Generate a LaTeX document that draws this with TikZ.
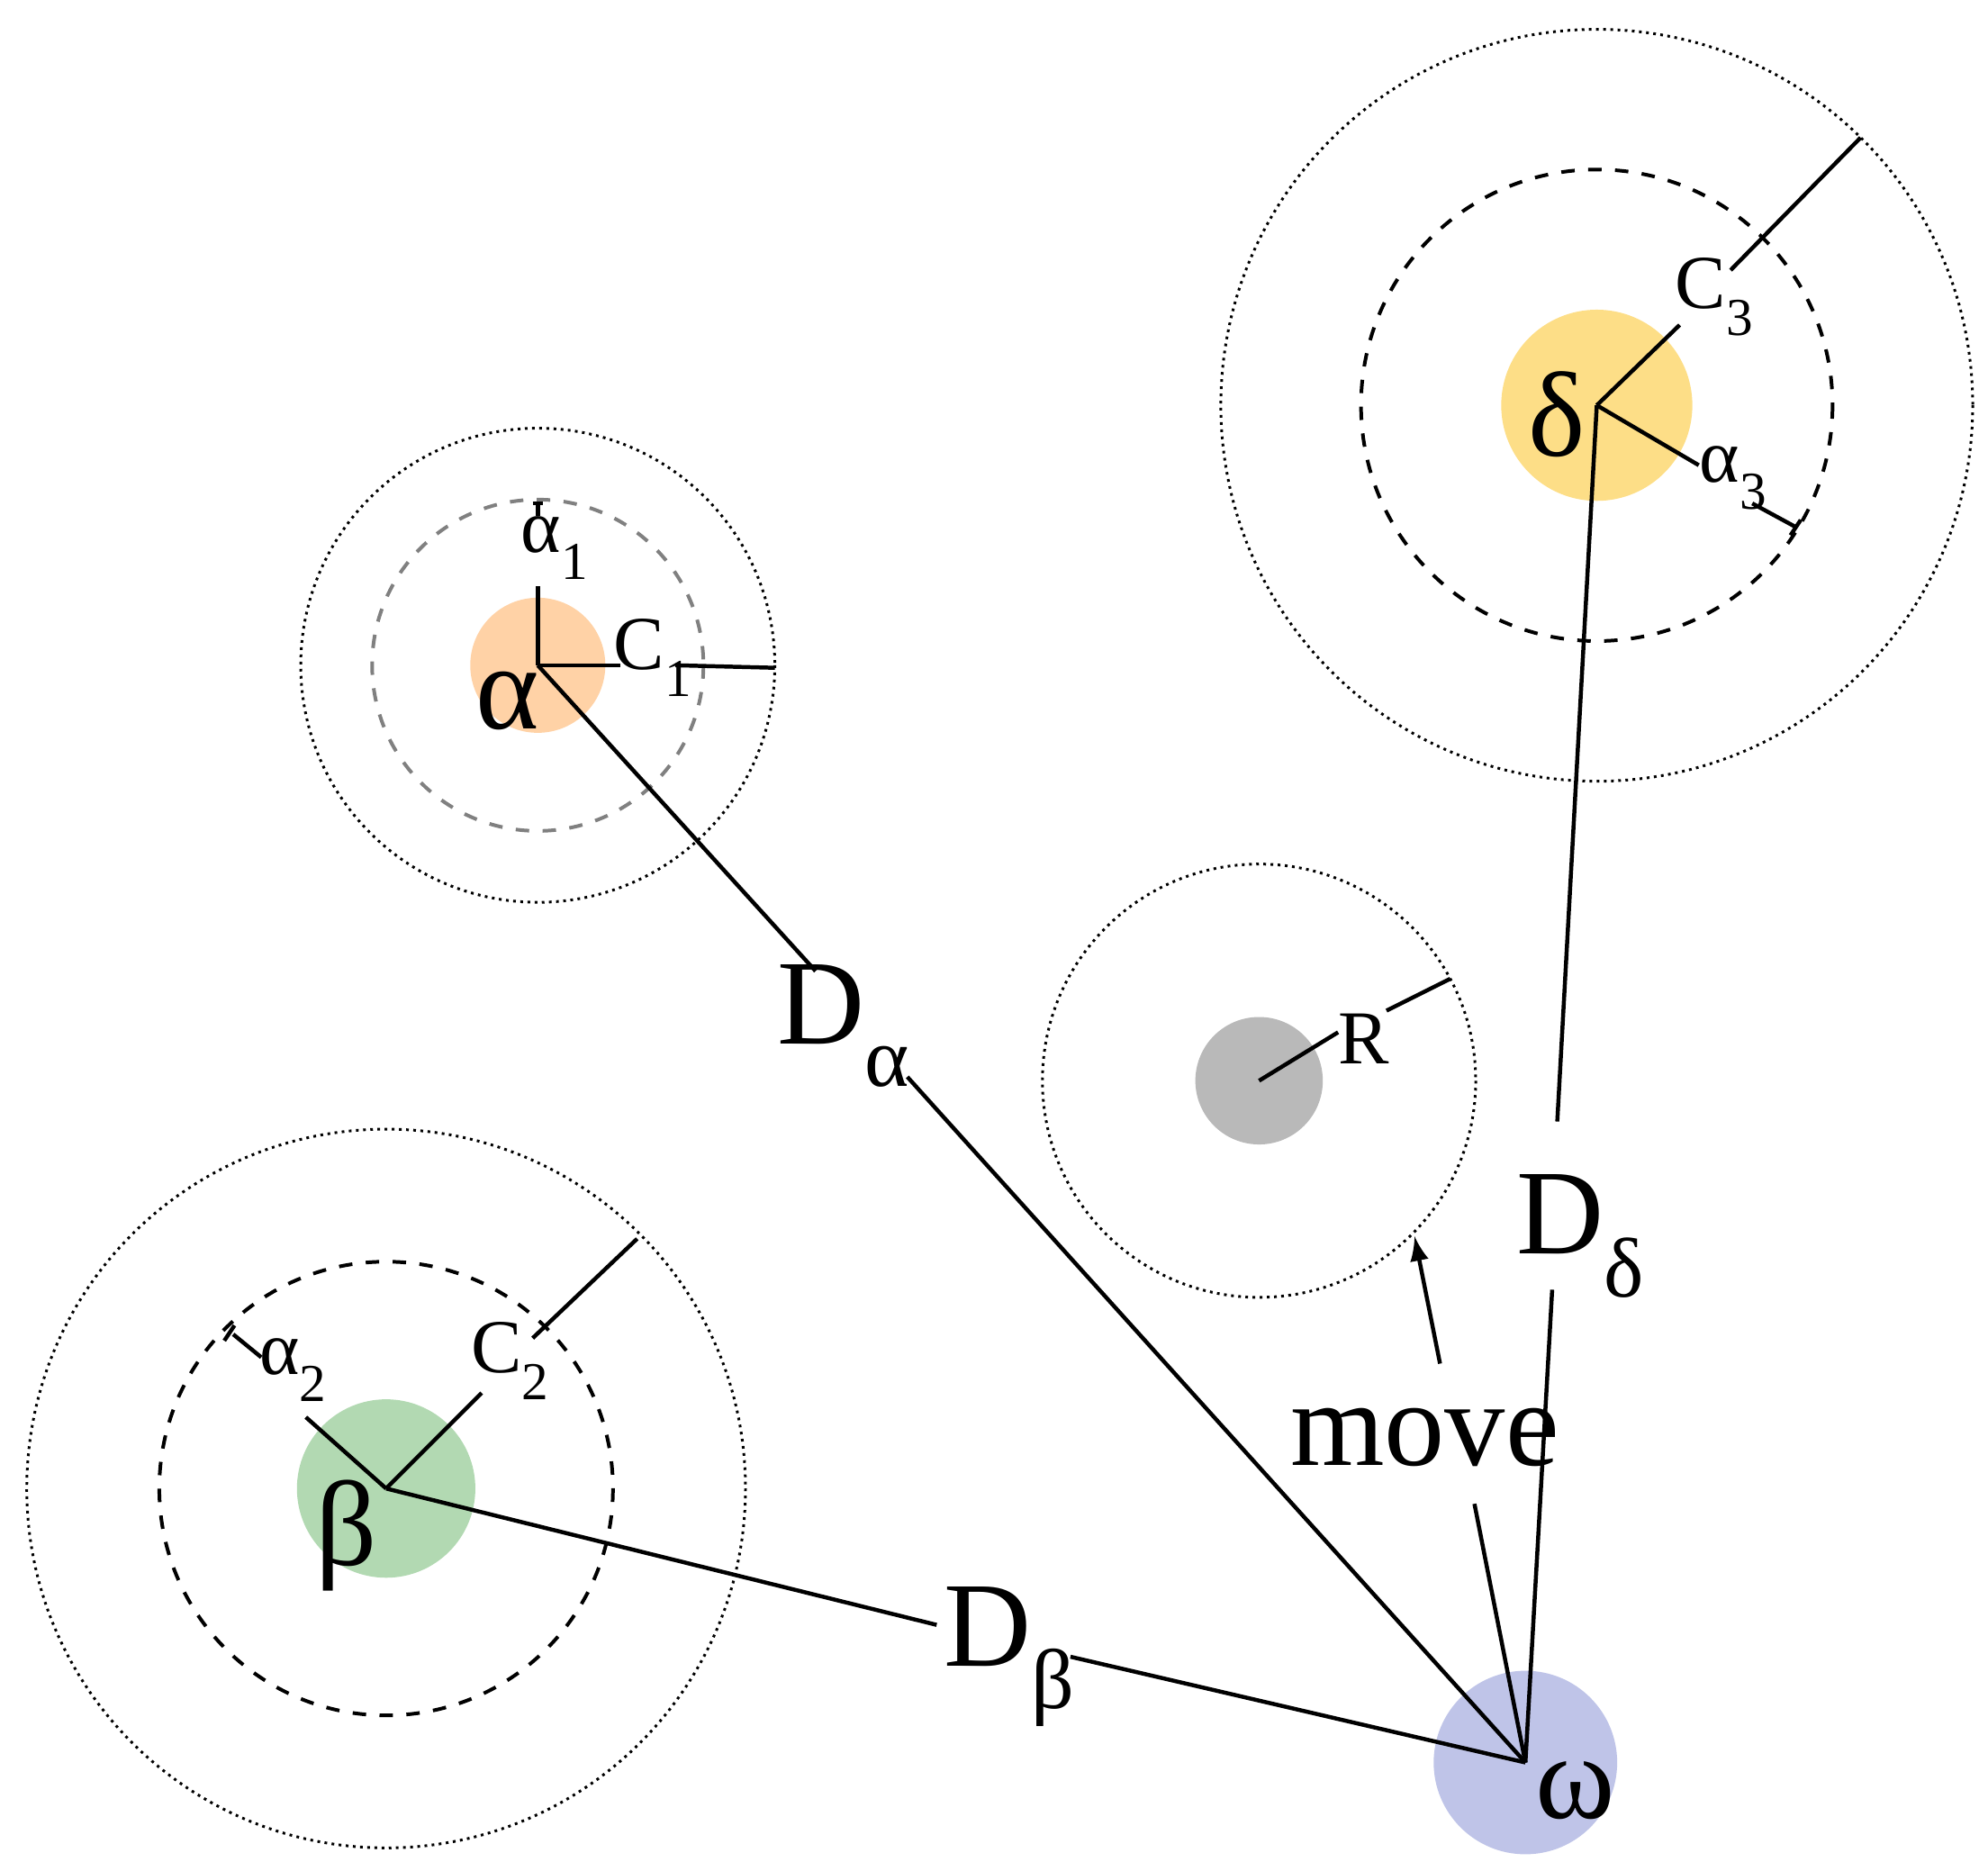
\documentclass[tikz,border=0pt]{standalone}
\usepackage{fontspec}
\setmainfont{Liberation Serif}
\newcommand{\lowsub}[1]{\raisebox{-0.35em}{\scalebox{0.7}{#1}}}
\begin{document}
\begin{tikzpicture}[x=0.01cm,y=-0.01cm,
  dotc/.style={densely dotted,line width=0.6pt},
  dashc/.style={dashed,line width=0.8pt},
  ln/.style={line width=0.9pt},
  big/.style={font=\fontsize{27}{30}\selectfont,inner sep=1pt},
  sm/.style={font=\fontsize{17}{20}\selectfont,inner sep=1pt}]
\useasboundingbox (0,0) rectangle (1560,1468);
% fills
\fill[orange!35!white] (422,522) circle (53);
\fill[green!50!black!30!white] (303,1168) circle (70);
\fill[yellow!50!orange!45!white] (1253,318) circle (75);
\fill[gray!55] (988,848) circle (50);
\fill[cyan!30!blue!25!white] (1197,1383) circle (72);
% circles
\draw[dashc,gray] (422,522) circle (130);
\draw[dotc] (422,522) circle (186);
\draw[dashc] (303,1168) circle (178);
\draw[dotc] (303,1168) circle (282);
\draw[dashc] (1253,318) circle (185);
\draw[dotc] (1253,318) circle (295);
\draw[dotc] (988,848) circle (170);
% centres
\coordinate (ca) at (422,522);
\coordinate (cb) at (303,1168);
\coordinate (cd) at (1253,318);
\coordinate (cg) at (988,848);
\coordinate (w) at (1197,1383);
% labels
\node[big] (A) at (398,550) {α};
\node[big] (B) at (272,1205) {β};
\node[big] (Dl) at (1222,325) {δ};
\node[big] (W) at (1236,1405) {ω};
\node[big] (Da) at (662,805) {D\lowsub{α}};
\node[big] (Db) at (792,1300) {D\lowsub{β}};
\node[big] (Dd) at (1240,970) {D\lowsub{δ}};
\node[big] (mv) at (1118,1128) {move};
\node[sm] (a1) at (435,430) {α\lowsub{1}};
\node[sm] (c1) at (512,516) {C\lowsub{1}};
\node[sm] (a2) at (230,1075) {α\lowsub{2}};
\node[sm] (c2) at (400,1068) {C\lowsub{2}};
\node[sm] (c3) at (1345,233) {C\lowsub{3}};
\node[sm] (a3) at (1360,375) {α\lowsub{3}};
\node[sm] (R) at (1070,815) {R};
% alpha lines
\draw[ln] (ca) -- (422,460);
\draw[ln] (418,395) -- (426,395); \draw[ln] (422,395) -- (422,405);
\draw[ln] (ca) -- (487,522);
\draw[ln] (530,522) -- (608,524);
\draw[ln] (ca) -- (640,762);
\draw[ln] (712,845) -- (w);
% beta lines
\draw[ln] (cb) -- (378,1093);
\draw[ln] (418,1050) -- (500,972);
\draw[ln] (cb) -- (240,1112);
\draw[ln] (205,1065) -- (183,1047);
\draw[ln] (176,1052) -- (184,1040);
\draw[ln] (cb) -- (735,1275);
\draw[ln] (840,1300) -- (w);
% delta lines
\draw[ln] (cd) -- (1318,255);
\draw[ln] (1358,212) -- (1460,108);
\draw[ln] (cd) -- (1333,365);
\draw[ln] (1375,395) -- (1410,414);
\draw[ln] (1405,420) -- (1413,408);
\draw[ln] (cd) -- (1222,880);
\draw[ln] (1218,1012) -- (w);
% gray
\draw[ln] (cg) -- (1050,810);
\draw[ln] (1088,793) -- (1138,768);
% move
\draw[ln] (w) -- (1157,1180);
\draw[ln,-latex] (1130,1070) -- (1110,970);
\end{tikzpicture}
\end{document}
